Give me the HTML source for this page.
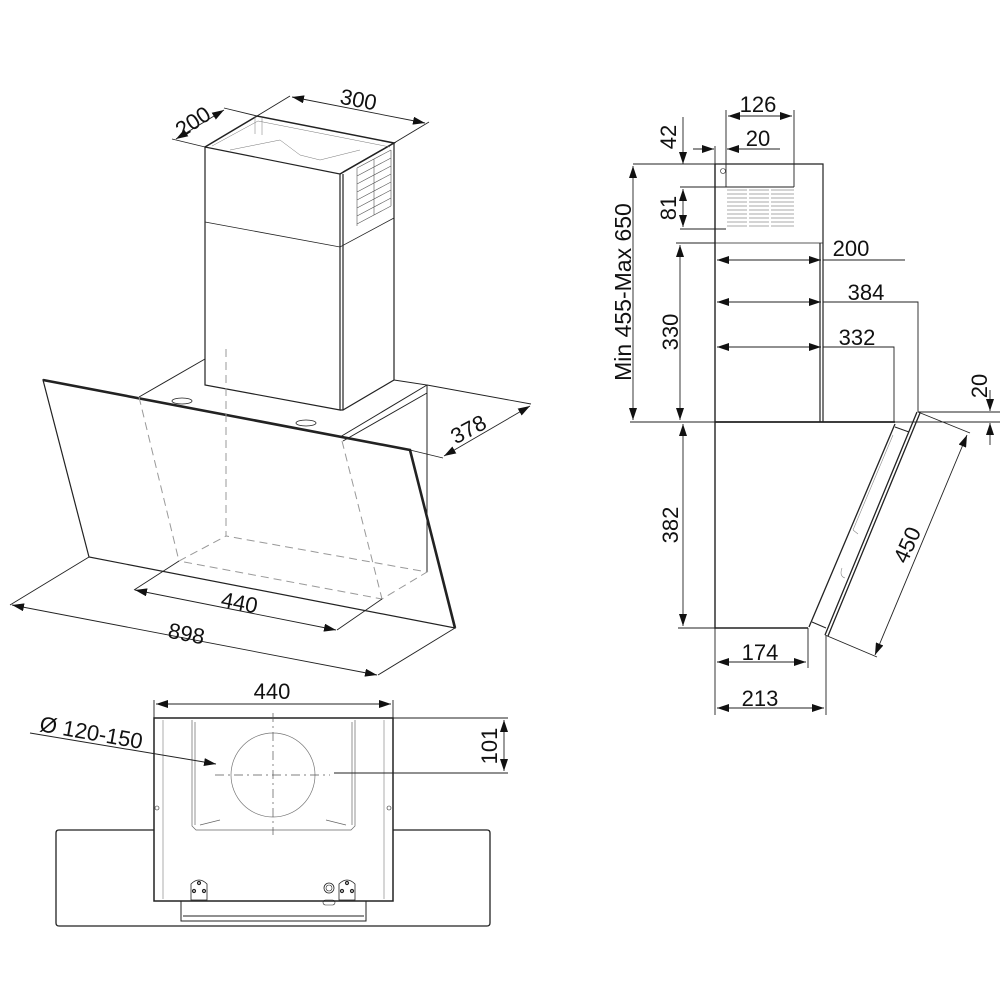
<!DOCTYPE html>
<html><head><meta charset="utf-8"><style>
html,body{margin:0;padding:0;background:#fff}
svg{display:block}
text{font-family:"Liberation Sans",sans-serif;font-size:22px;fill:#111}
</style></head><body>
<svg width="1000" height="1000" viewBox="0 0 1000 1000" xmlns="http://www.w3.org/2000/svg">
<defs>
<marker id="a" viewBox="0 0 12 8" refX="12" refY="4" markerWidth="12" markerHeight="8" markerUnits="userSpaceOnUse" orient="auto-start-reverse">
<path d="M0,0 L12,4 L0,8 Z" fill="#111"/></marker>
</defs>
<g fill="none" stroke="#222" stroke-width="1.2">
<path d="M139,397 L205,359 M394,380 L427,385 L427,572 M340,437 L427,385 M343,441 L427,393" stroke-width="1"/>
<ellipse cx="182" cy="401" rx="10" ry="3" stroke-width="0.8"/>
<ellipse cx="306" cy="423" rx="10" ry="3" stroke-width="0.8"/>
<path d="M205,147 L205,385 L340,410 L340,174 Z" fill="#fff"/>
<path d="M343,174 L343,410 M340,410 L343,410 L394,380 L394,143 L343,172"/>
<path d="M205,147 L257,116 L394,143 L340,174" stroke-width="1.5"/>
<path d="M205,222 L340,247 L394,218" stroke-width="0.8"/>
<path d="M212,146 L258,121 L390,147 M255,116 L255,134 M262,118 L262,135 M230,150 L280,140 L300,155 L320,160 L340,155 L360,150" stroke-width="0.5" stroke="#777"/>
<g stroke-width="0.6" stroke="#555">
<path d="M357,168 L391,150 M357,176 L391,158 M357,184 L391,166 M357,192 L391,174 M357,200 L391,182 M357,208 L391,190 M357,216 L391,198 M357,224 L391,206 M357,168 L357,226 M391,150 L391,206 M374,159 L374,215"/>
</g>
<path d="M43,380 L410,450 L455,628 L89,557 Z" fill="none" stroke-width="1.2"/>
<path d="M43,380 L410,450 L455,628" stroke-width="2.6"/>
<g stroke-dasharray="8,5" stroke="#999" stroke-width="1">
<path d="M226,349 L226,536 L427,572 L382,599 L179,561 L226,536 M139,397 L179,561 M342,441 L382,599"/>
</g>
<g stroke-width="0.9">
<path d="M205,147 L172,139 M257,116 L224,108"/>
<path d="M176,139 L224,110" marker-start="url(#a)" marker-end="url(#a)"/>
<path d="M257,116 L290,96 M394,143 L429,122"/>
<path d="M292,97 L425,123" marker-start="url(#a)" marker-end="url(#a)"/>
<path d="M427,385 L531,404 M410,450 L443,458"/>
<path d="M444,456 L530,406" marker-start="url(#a)" marker-end="url(#a)"/>
<path d="M179,561 L134,590 M382,599 L337,630"/>
<path d="M135,590 L336,630" marker-start="url(#a)" marker-end="url(#a)"/>
<path d="M89,557 L10,605 M455,628 L378,675"/>
<path d="M12,605 L377,675" marker-start="url(#a)" marker-end="url(#a)"/>
</g>
<path d="M715,164 L823,164 L823,422 M820,243 L820,422" stroke-width="1.2"/>
<path d="M715,164 L715,628 L808,628" stroke-width="1.4"/>
<path d="M715,243 L823,243" stroke-width="0.7"/>
<path d="M715,422 L895,422" stroke-width="1.8"/>
<circle cx="723" cy="171" r="2.5" stroke-width="0.6"/>
<g stroke-width="0.6" stroke="#555">
<path d="M727,190h20M749,190h20M771,190h23M727,194h20M749,194h20M771,194h23M727,198h20M749,198h20M771,198h23M727,202h20M749,202h20M771,202h23M727,206h20M749,206h20M771,206h23M727,210h20M749,210h20M771,210h23M727,214h20M749,214h20M771,214h23M727,218h20M749,218h20M771,218h23M727,222h20M749,222h20M771,222h23M727,226h20M749,226h20M771,226h23"/>
</g>
<path d="M895,424 L809,627" stroke-width="1.3"/>
<path d="M917,412 L825,635 M920,413 L828,636" stroke-width="1.3"/>
<path d="M895,427 L909,432 M812,622 L826,628" stroke-width="1"/>
<path d="M893,435 L853,530 M853,530 L858,534 M842,568 q-3,8 3,10" stroke-width="0.6" stroke="#888"/>
<g stroke-width="0.9">
<path d="M633,164 L715,164 M630,422 L715,422"/>
<path d="M633,166 L633,420" marker-start="url(#a)" marker-end="url(#a)"/>
<path d="M676,243 L715,243"/>
<path d="M680,245 L680,420" marker-start="url(#a)" marker-end="url(#a)"/>
<path d="M683,424 L683,626" marker-start="url(#a)" marker-end="url(#a)"/>
<path d="M678,628 L715,628"/>
<path d="M683,117 L683,164" marker-end="url(#a)"/>
<path d="M680,187 L794,187 M680,229 L726,229"/>
<path d="M683,189 L683,227" marker-start="url(#a)" marker-end="url(#a)"/>
<path d="M726,110 L726,187 M794,110 L794,187"/>
<path d="M728,116 L792,116" marker-start="url(#a)" marker-end="url(#a)"/>
<path d="M693,149 L714,149" marker-end="url(#a)"/>
<path d="M780,149 L727,149" marker-end="url(#a)"/>
<path d="M715,146 L715,164"/>
<path d="M717,260 L821,260" marker-start="url(#a)" marker-end="url(#a)"/>
<path d="M823,260 L905,260"/>
<path d="M717,302 L821,302" marker-start="url(#a)" marker-end="url(#a)"/>
<path d="M823,302 L918,302 L918,412"/>
<path d="M717,347 L821,347" marker-start="url(#a)" marker-end="url(#a)"/>
<path d="M823,347 L894,347 L894,422"/>
<path d="M918,412 L1000,412 M895,422 L1000,422"/>
<path d="M990,390 L990,411" marker-end="url(#a)"/>
<path d="M990,445 L990,423" marker-end="url(#a)"/>
<path d="M918,412 L970,433 M825,635 L877,657"/>
<path d="M967,435 L875,655" marker-start="url(#a)" marker-end="url(#a)"/>
<path d="M715,628 L715,715 M808,628 L808,668 M826,636 L826,715"/>
<path d="M717,662 L806,662" marker-start="url(#a)" marker-end="url(#a)"/>
<path d="M717,708 L824,708" marker-start="url(#a)" marker-end="url(#a)"/>
</g>
<path d="M154,830 L59,830 Q56,830 56,833 L56,923 Q56,926 59,926 L487,926 Q490,926 490,923 L490,833 Q490,830 487,830 L393,830" stroke-width="1.3"/>
<rect x="154" y="718" width="239" height="183" fill="#fff" stroke-width="1.5"/>
<path d="M163,720 L163,899 M384,720 L384,899" stroke-width="0.6" stroke="#777"/>
<path d="M181,901 L181,921 L366,921 L366,901 M183,916 L364,916" stroke-width="1"/>
<path d="M192,720 L192,826 L196,830 L351,830 L355,826 L355,720 M195,722 L195,825 M352,722 L352,825 M200,825 L220,820 M326,820 L346,825" stroke-width="0.7" stroke="#666"/>
<circle cx="273" cy="775" r="42" stroke-width="0.7" stroke="#777"/>
<path d="M273,713 L273,835 M215,775 L330,775" stroke-dasharray="9,4,2,4" stroke-width="0.7" stroke="#555"/>
<path d="M334,773 L508,773 M393,718 L508,718" stroke-width="0.9"/>
<path d="M504,720 L504,771" stroke-width="0.9" marker-start="url(#a)" marker-end="url(#a)"/>
<path d="M156,704 L391,704" stroke-width="0.9" marker-start="url(#a)" marker-end="url(#a)"/>
<path d="M154,700 L154,718 M393,700 L393,718" stroke-width="0.9"/>
<path d="M30,733 L216,764" stroke-width="1" marker-end="url(#a)"/>
<circle cx="157" cy="808" r="2" stroke-width="0.6"/><circle cx="389" cy="808" r="2" stroke-width="0.6"/>
<path d="M191,900 L191,884 Q199,876 207,884 L207,900 Z M339,900 L339,884 Q347,876 355,884 L355,900 Z" stroke-width="0.8"/>
<circle cx="199" cy="883" r="1.5"/><circle cx="194" cy="891" r="1.5"/><circle cx="204" cy="891" r="1.5"/>
<circle cx="347" cy="883" r="1.5"/><circle cx="342" cy="891" r="1.5"/><circle cx="352" cy="891" r="1.5"/>
<circle cx="329" cy="888" r="5" stroke-width="0.8"/><circle cx="329" cy="888" r="3" stroke-width="0.6"/>
<rect x="323" y="900" width="12" height="5" rx="2.5" stroke-width="0.6"/>
</g>
<text x="197" y="128" text-anchor="middle" transform="rotate(-33 197 128)">200</text>
<text x="357" y="107" text-anchor="middle" transform="rotate(11 357 107)">300</text>
<text x="472" y="436" text-anchor="middle" transform="rotate(-28 472 436)">378</text>
<text x="238" y="610" text-anchor="middle" transform="rotate(11 238 610)">440</text>
<text x="185" y="641" text-anchor="middle" transform="rotate(11 185 641)">898</text>
<text x="758" y="112" text-anchor="middle">126</text>
<text x="758" y="146" text-anchor="middle">20</text>
<text x="676" y="137" text-anchor="middle" transform="rotate(-90 676 137)">42</text>
<text x="676" y="208" text-anchor="middle" transform="rotate(-90 676 208)">81</text>
<text x="631" y="292" text-anchor="middle" style="font-size:23px" transform="rotate(-90 631 292)">Min  455-Max  650</text>
<text x="678" y="332" text-anchor="middle" transform="rotate(-90 678 332)">330</text>
<text x="678" y="525" text-anchor="middle" transform="rotate(-90 678 525)">382</text>
<text x="851" y="256" text-anchor="middle">200</text>
<text x="866" y="300" text-anchor="middle">384</text>
<text x="857" y="345" text-anchor="middle">332</text>
<text x="987" y="386" text-anchor="middle" transform="rotate(-90 987 386)">20</text>
<text x="914" y="548" text-anchor="middle" transform="rotate(-66 914 548)">450</text>
<text x="760" y="660" text-anchor="middle">174</text>
<text x="760" y="706" text-anchor="middle">213</text>
<text x="272" y="699" text-anchor="middle">440</text>
<text x="90" y="740" text-anchor="middle" transform="rotate(10 90 740)">Ø 120-150</text>
<text x="497" y="746" text-anchor="middle" transform="rotate(-90 497 746)">101</text>
</svg>
</body></html>
